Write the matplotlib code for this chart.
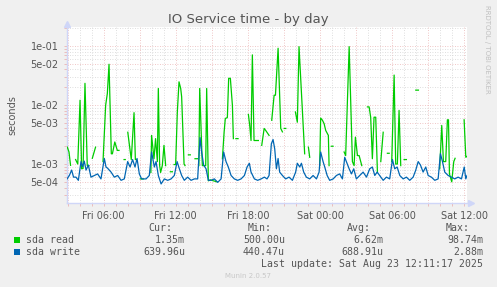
import numpy as np
import matplotlib
matplotlib.use('Agg')
import matplotlib.pyplot as plt
from matplotlib.ticker import FixedLocator, NullFormatter
from matplotlib.patches import Rectangle

# sample times in hours since Fri 00:00, values in milliseconds
write_t = [2.96, 3.15, 3.34, 3.50, 3.70, 3.90, 4.12, 4.25, 4.39, 4.54,
           4.73, 4.95, 5.23, 5.50, 5.78, 6.06, 6.20, 6.33, 6.62, 6.89,
           7.17, 7.45, 7.72, 8.00, 8.20, 8.41, 8.61, 8.78, 8.97, 9.16,
           9.53, 9.80, 9.99, 10.22, 10.36, 10.55, 10.78, 11.05, 11.33, 11.61,
           11.88, 12.11, 12.30, 12.49, 12.71, 12.99, 13.27, 13.55, 13.82, 14.02,
           14.15, 14.32, 14.52, 14.71, 14.94, 15.21, 15.49, 15.77, 15.98, 16.18,
           16.37, 16.60, 16.87, 17.15, 17.43, 17.71, 17.93, 18.12, 18.26, 18.54,
           18.81, 19.10, 19.37, 19.59, 19.76, 19.95, 20.09, 20.23, 20.37, 20.51,
           20.64, 20.87, 21.14, 21.42, 21.70, 21.97, 22.11, 22.31, 22.45, 22.64,
           22.86, 23.14, 23.42, 23.70, 23.92, 24.05, 24.25, 24.39, 24.59, 24.80,
           25.09, 25.36, 25.63, 25.86, 26.05, 26.19, 26.42, 26.61, 26.80, 27.02,
           27.30, 27.58, 27.86, 28.13, 28.35, 28.55, 28.75, 28.96, 29.25, 29.52,
           29.79, 30.02, 30.21, 30.41, 30.63, 30.91, 31.18, 31.46, 31.74, 31.96,
           32.16, 32.35, 32.57, 32.79, 32.99, 33.26, 33.54, 33.82, 34.01, 34.18,
           34.37, 34.65, 34.93, 35.20, 35.48, 35.76, 35.99, 36.12, 36.22]
write_ms = [0.56, 0.64, 0.79, 0.60, 0.60, 0.53, 1.10, 0.90, 1.12, 0.79,
            0.96, 0.60, 0.64, 0.68, 0.56, 1.24, 0.89, 0.85, 0.73, 0.60,
            0.64, 0.53, 0.56, 1.10, 0.89, 1.19, 0.89, 1.24, 0.68, 0.56,
            0.56, 0.64, 1.60, 0.89, 1.10, 0.64, 0.46, 0.56, 0.53, 0.56,
            0.64, 1.10, 0.83, 0.64, 0.53, 0.60, 0.53, 0.56, 0.56, 2.80,
            1.60, 0.96, 0.83, 0.53, 0.53, 0.56, 0.49, 0.56, 1.60, 1.10,
            0.89, 0.64, 0.56, 0.53, 0.56, 0.64, 0.89, 1.03, 0.73, 0.56,
            0.53, 0.56, 0.60, 0.56, 0.64, 2.20, 2.60, 1.80, 0.83, 1.24,
            0.73, 0.64, 0.56, 0.60, 0.53, 0.73, 1.03, 0.89, 1.03, 0.73,
            0.60, 0.56, 0.64, 0.56, 0.73, 1.60, 1.10, 0.89, 0.64, 0.53,
            0.56, 0.64, 0.68, 0.56, 1.30, 1.10, 0.83, 0.68, 0.83, 0.56,
            0.64, 0.73, 0.60, 0.83, 0.89, 0.64, 0.73, 0.64, 0.53, 0.60,
            0.56, 1.19, 0.83, 0.89, 0.64, 0.56, 0.60, 0.53, 0.60, 0.79,
            1.10, 0.96, 0.73, 0.89, 0.64, 0.60, 0.53, 0.56, 1.50, 1.10,
            0.73, 0.64, 0.60, 0.56, 0.60, 0.56, 0.89, 0.56, 0.64]

nan = float('nan')
read_t = [2.98, 3.12, 3.25, 3.40, 3.67, 3.85, 4.04, 4.17, 4.29, 4.45,
          4.64, 4.78, 4.90, 5.06, 5.33, 5.50, 5.95, 6.17, 6.31, 6.45,
          6.64, 6.73, 6.93, 7.14, 7.28, 7.40, 7.70, 7.80, 7.90, 8.01,
          8.30, 8.53, 8.64, 8.72, 8.85, 9.05, 9.30, 9.45, 9.93, 9.99,
          10.19, 10.32, 10.47, 10.55, 10.66, 10.74, 10.88, 11.02, 11.16, 11.30,
          11.55, 11.72, 11.80, 11.86, 11.99, 12.13, 12.27, 12.41, 12.49, 12.69,
          12.77, 12.90, 13.05, 13.21, 13.30, 13.60, 13.80, 13.86, 13.92, 13.99,
          14.21, 14.49, 14.57, 14.71, 14.88, 15.13, 15.43, 15.60, 15.88, 16.02,
          16.12, 16.29, 16.40, 16.54, 16.71, 16.79, 16.90, 17.00, 17.18, 17.30,
          18.04, 18.15, 18.26, 18.37, 18.51, 18.65, 18.87, 19.00, 19.15, 19.35,
          19.48, 19.76, 19.90, 19.98, 20.18, 20.29, 20.51, 20.73, 20.87, 20.95,
          21.02, 21.15, 21.30, 21.95, 22.11, 22.25, 22.72, 22.85, 23.03, 23.14,
          23.30, 23.97, 24.05, 24.20, 24.34, 24.47, 24.69, 24.75, 24.85, 24.94,
          25.08, 25.20, 26.00, 26.13, 26.42, 26.69, 26.83, 26.94, 27.11, 27.25,
          27.47, 27.60, 27.94, 28.08, 28.21, 28.35, 28.49, 28.63, 28.77, 28.90,
          29.05, 29.25, 29.30, 29.60, 29.75, 29.85, 29.96, 30.16, 30.29, 30.43,
          30.57, 30.71, 30.85, 30.99, 31.18, 31.30, 31.96, 32.18, 32.30, 33.95,
          34.12, 34.26, 34.45, 34.59, 34.68, 34.76, 34.95, 35.12, 35.23, 35.40,
          35.98, 36.12, 36.22]
read_ms = [1.93, 1.60, 0.95, nan, 1.19, 1.00, 12.0, 0.83, 0.84, 23.2,
           0.94, 0.94, nan, 1.25, 1.93, nan, 1.10, 9.9, 15.6, 48.8,
           1.49, 1.49, 2.36, 1.70, 1.70, nan, 1.19, 1.19, nan, 3.45,
           1.19, 7.4, 1.19, 1.19, nan, 0.56, 0.56, nan, 0.72, 3.05,
           1.23, 2.69, 1.10, 19.0, 0.94, 0.72, 0.94, 2.07, 0.94, nan,
           0.74, 0.74, nan, 0.98, 0.98, 7.6, 24.6, 19.0, 13.7, 1.00,
           0.94, nan, 1.43, 1.43, nan, 1.23, 1.23, nan, 0.94, 19.0,
           0.94, 0.94, 19.0, 0.52, 0.54, 0.52, 0.50, nan, 1.23, 3.45,
           5.9, 6.1, 28.2, 28.2, 9.9, 2.69, nan, 2.69, 2.69, nan,
           6.9, 4.5, 2.5, 70.3, 2.5, 2.5, 2.5, nan, 2.07, 4.0,
           3.7, 3.05, nan, 5.5, 14.6, 14.6, 91.0, 4.0, 3.5, nan,
           4.0, 4.0, nan, 7.6, 5.1, 97.0, 1.49, nan, 1.93, 1.30,
           nan, 0.94, 6.0, 5.5, 4.8, 3.7, 3.05, 0.94, nan, 2.0,
           2.0, nan, 1.60, 1.39, 97.0, 1.10, 0.94, 2.85, 1.39, 1.39,
           0.94, nan, 9.26, 9.26, 6.2, 1.23, 6.2, 6.2, 0.72, nan,
           1.10, 3.45, nan, 1.52, 1.52, nan, 1.10, 32.0, 1.00, 1.00,
           8.1, 0.94, nan, 1.19, 1.19, nan, 17.8, 17.8, nan, 0.83,
           4.5, 1.10, 1.10, 5.6, 5.6, 0.68, 0.50, 1.10, 1.25, nan,
           5.6, 1.30, 1.35]

series_names = ["sda read", "sda write"]
series_colors = ["#00CC00", "#0066B3"]
stat_headers = ["Cur:", "Min:", "Avg:", "Max:"]
read_stats = ["1.35m", "500.00u", "6.62m", "98.74m"]
write_stats = ["639.96u", "440.47u", "688.91u", "2.88m"]

x_ticks = [6, 12, 18, 24, 30, 36]
x_labels = ["Fri 06:00", "Fri 12:00", "Fri 18:00", "Sat 00:00", "Sat 06:00", "Sat 12:00"]
y_ticks = [5e-4, 1e-3, 5e-3, 1e-2, 5e-2, 1e-1]
y_labels = ["5e-04", "1e-03", "5e-03", "1e-02", "5e-02", "1e-01"]

W, H = 497, 287
font_col = "#555555"
axis_col = "#CFD6F8"


def fx(px):
    return px / W


def fy(py):
    return 1 - py / H


fig = plt.figure(figsize=(W / 100, H / 100), dpi=100, facecolor="#F0F0F0")
ax = fig.add_axes([fx(67), fy(203), (467 - 67) / W, (203 - 27) / H])
ax.set_facecolor("white")

ax.plot(write_t, np.array(write_ms) / 1000, color=series_colors[1], lw=0.9, zorder=4)
ax.plot(read_t, np.array(read_ms) / 1000, color=series_colors[0], lw=0.9, zorder=3)

ax.set_yscale("log")
ax.set_xlim(2.955, 36.22)
ax.set_ylim(2.19e-4, 0.2083)

# grid: major every 3h / 1,5 per decade, minor every hour / 2..9 per decade
major_x = np.arange(3, 37, 3)
ax.xaxis.set_major_locator(FixedLocator(major_x))
ax.xaxis.set_minor_locator(FixedLocator([h for h in range(3, 37) if h % 3]))
ax.set_xticklabels([x_labels[x_ticks.index(h)] if h in x_ticks else "" for h in major_x])
minor_y = [k * 10.0 ** e for e in range(-4, 0) for k in (2, 3, 4, 6, 7, 8, 9)]
ax.yaxis.set_major_locator(FixedLocator(y_ticks))
ax.yaxis.set_minor_locator(FixedLocator(minor_y))
ax.set_yticklabels(y_labels)
ax.yaxis.set_minor_formatter(NullFormatter())

ax.grid(which="major", color="#EBB4B4", lw=0.6, linestyle=(0, (1, 2)))
ax.grid(which="minor", color="#D4D4D4", lw=0.6, linestyle=(0, (1, 2)))
ax.set_axisbelow(True)

ax.tick_params(which="both", length=2, width=0.6, color="#EBB4B4", labelsize=7, labelcolor=font_col)
ax.tick_params(axis="x", pad=3.5)
ax.tick_params(axis="y", pad=4)

for s in ["top", "right"]:
    ax.spines[s].set_visible(False)
for s in ["left", "bottom"]:
    ax.spines[s].set_color(axis_col)
    ax.spines[s].set_linewidth(1.0)
ax.plot([0], [1.015], marker="^", ms=5, color=axis_col, transform=ax.transAxes, clip_on=False)
ax.plot([1.01], [0], marker=">", ms=5, color=axis_col, transform=ax.transAxes, clip_on=False)

fig.text(fx(248), fy(19), "IO Service time - by day", ha="center", va="center",
         fontsize=9.5, color=font_col)
fig.text(fx(12), fy(115), "seconds", rotation=90, ha="center", va="center",
         fontsize=7, color=font_col)
fig.text(fx(487), fy(5), "RRDTOOL / TOBI OETIKER", rotation=270, ha="center", va="top",
         fontsize=5, color="#C0C0C0")

# legend block
mono = dict(family="DejaVu Sans Mono", fontsize=7.1, color=font_col, va="center")
for x, h in zip([172, 272, 371, 470], stat_headers):
    fig.text(fx(x), fy(228), h, ha="right", **mono)
for row_y, name, col, stats in zip([240, 252], series_names, series_colors, [read_stats, write_stats]):
    fig.add_artist(Rectangle((fx(14), fy(row_y + 3)), 6 / W, 6 / H, transform=fig.transFigure,
                             facecolor=col, edgecolor="none"))
    fig.text(fx(26), fy(row_y), name, ha="left", **mono)
    for x, v in zip([185, 285, 383, 483], stats):
        fig.text(fx(x), fy(row_y), v, ha="right", **mono)
fig.text(fx(483), fy(264), "Last update: Sat Aug 23 12:11:17 2025", ha="right", **mono)
fig.text(fx(248), fy(276), "Munin 2.0.57", ha="center", va="center", fontsize=5, color="#C8C8C8")

fig.savefig("out.png", dpi=100, facecolor=fig.get_facecolor())
